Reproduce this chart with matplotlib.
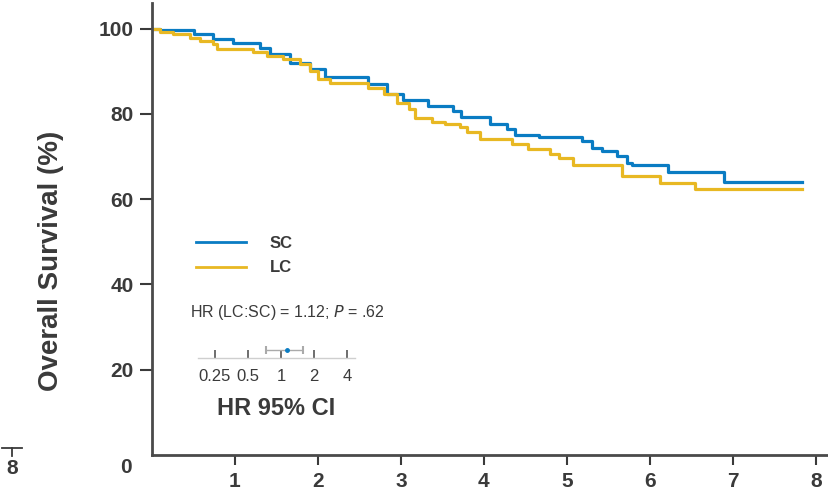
import numpy as np
import matplotlib.pyplot as plt

plt.rcParams['font.family'] = ['Liberation Sans Narrow', 'Liberation Sans', 'DejaVu Sans']

# Kaplan-Meier step values (years, % surviving)
sc_time = [0, 0.1, 0.5, 0.73, 0.98, 1.3, 1.42, 1.66, 1.9, 2.08, 2.6, 2.83, 3.02, 3.33, 3.63,
           3.73, 4.07, 4.28, 4.37, 4.67, 5.18, 5.3, 5.42, 5.61, 5.72, 5.78, 6.22, 6.9, 7.84]
sc_surv = [100, 99.7, 98.8, 97.6, 96.7, 95.5, 94.1, 92.0, 90.6, 88.7, 87.0, 84.7, 83.3, 81.9, 80.7,
           79.3, 77.6, 76.5, 75.1, 74.6, 73.6, 72.0, 71.3, 70.1, 68.5, 68.0, 66.4, 64.0, 64.0]

lc_time = [0, 0.1, 0.25, 0.46, 0.58, 0.73, 0.78, 1.22, 1.39, 1.58, 1.78, 1.9, 2.0, 2.15, 2.6,
           2.8, 2.95, 3.1, 3.17, 3.37, 3.53, 3.71, 3.8, 3.95, 4.34, 4.53, 4.8, 4.9, 5.07,
           5.66, 6.12, 6.54, 7.84]
lc_surv = [100, 99.1, 98.8, 97.9, 97.2, 96.3, 95.3, 94.6, 93.6, 92.9, 91.8, 90.1, 88.2, 87.3, 86.1,
           84.7, 82.6, 81.2, 79.1, 78.1, 77.6, 76.9, 75.8, 74.1, 72.9, 71.8, 70.6, 69.6, 68.0,
           65.4, 63.8, 62.4, 62.4]

hr = 1.12
hr_lo, hr_hi = 0.73, 1.59
p_value = '.62'
hr_ticks = [0.25, 0.5, 1, 2, 4]
hr_tick_labels = ['0.25', '0.5', '1', '2', '4']

blue = '#0a7cc3'
gold = '#e8b823'
ink = '#3a3a3a'

fig = plt.figure(figsize=(8.29, 4.90), dpi=100)
ax = fig.add_axes([0.1834, 0.0714, 0.8166, 0.9225])

ax.step(sc_time, sc_surv, where='post', color=blue, lw=2.3, label='SC')
ax.step(lc_time, lc_surv, where='post', color=gold, lw=2.3, label='LC')

ax.set_xlim(0, 8.16)
ax.set_ylim(0, 106)
ax.set_yticks([20, 40, 60, 80, 100])
ax.set_xticks(range(1, 9))
for s in ['top', 'right']:
    ax.spines[s].set_visible(False)
for s in ['left', 'bottom']:
    ax.spines[s].set_color('#4a4a4a')
    ax.spines[s].set_linewidth(2)
ax.tick_params(axis='y', length=9, width=1.5, color=ink, labelsize=15, labelcolor=ink, pad=4)
ax.tick_params(axis='x', length=7, width=1.5, color=ink, labelsize=15, labelcolor=ink, pad=5)
for lab in ax.get_xticklabels() + ax.get_yticklabels():
    lab.set_fontweight('bold')

ax.set_ylabel('Overall Survival (%)', fontsize=20, fontweight='bold', color=ink)
ax.yaxis.set_label_coords(-0.13, 0.43)

# origin label sits left of the spine, in line with the other x labels
fig.text(126 / 829, 1 - 467 / 490, '0', ha='center', va='center',
         fontsize=15, fontweight='bold', color=ink)
# leftover axis end from the neighbouring panel
fig.text(12 / 829, 1 - 468 / 490, '8', ha='center', va='center', fontsize=15,
         fontweight='bold', color=ink)
fig.add_artist(plt.Line2D([2 / 829, 22 / 829], [1 - 448 / 490] * 2, color=ink, lw=1.3))
fig.add_artist(plt.Line2D([12 / 829] * 2, [1 - 448 / 490, 1 - 456 / 490], color=ink, lw=1.3))

leg = ax.legend(loc='upper left', bbox_to_anchor=(0.043, 0.517), frameon=False,
                handlelength=3.0, handletextpad=1.4, labelspacing=0.55,
                prop={'size': 12, 'weight': 'bold'})
for t in leg.get_texts():
    t.set_color(ink)
for h in leg.legend_handles:
    h.set_linewidth(2)

ax.text(0.056, 0.315, f'HR (LC:SC) = {hr:.2f}; $P$ = {p_value}', transform=ax.transAxes,
        fontsize=11.5, color=ink, va='center')

# small forest plot of the hazard ratio
fax = fig.add_axes([198 / 829, 1 - 358 / 490, 157 / 829, 20 / 490])
fax.set_xscale('log', base=2)
fax.set_xlim(0.175, 4.7)
fax.set_ylim(0, 1)
for s in ['top', 'right', 'left']:
    fax.spines[s].set_visible(False)
fax.spines['bottom'].set_color('#cfcfcf')
fax.spines['bottom'].set_linewidth(1)
fax.set_yticks([])
fax.set_xticks(hr_ticks)
fax.set_xticklabels(hr_tick_labels)
fax.xaxis.set_minor_locator(plt.NullLocator())
fax.tick_params(axis='x', direction='in', length=6, width=1.2, color='#555555',
                labelsize=12, labelcolor=ink, pad=8)
fax.patch.set_alpha(0)
fax.errorbar([hr], [0.4], xerr=[[hr - hr_lo], [hr_hi - hr]], fmt='o', color=blue,
             ms=2.5, ecolor='#aaaaaa', elinewidth=1, capsize=3, capthick=1.5)
fig.text(276 / 829, 1 - 408 / 490, 'HR 95% CI', ha='center', va='center',
         fontsize=17, fontweight='bold', color=ink)

fig.savefig('out.png', dpi=100)
